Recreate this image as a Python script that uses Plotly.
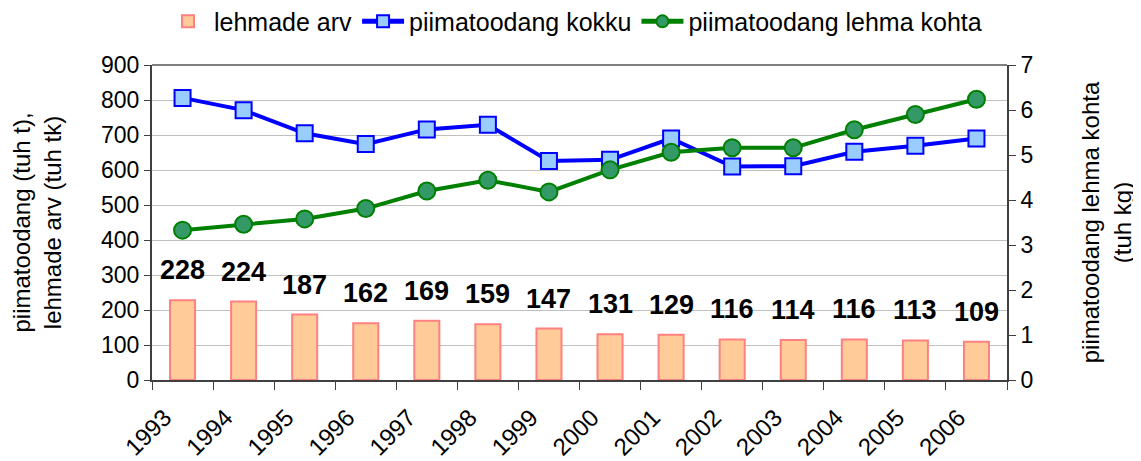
import plotly.graph_objects as go

years = ["1993", "1994", "1995", "1996", "1997", "1998", "1999",
         "2000", "2001", "2002", "2003", "2004", "2005", "2006"]
lehmade_arv = [228, 224, 187, 162, 169, 159, 147, 131, 129, 116, 114, 116, 113, 109]
piim_kokku = [806, 771, 705, 674, 716, 729, 626, 629, 690, 610, 611, 652, 669, 690]
piim_lehma_kohta = [3.33, 3.46, 3.58, 3.81, 4.20, 4.44, 4.18, 4.67, 5.06, 5.16, 5.16,
                    5.56, 5.90, 6.24]

FONT = "Liberation Sans, Arial, sans-serif"

# the page body has an 8px margin, so the figure is made 8px smaller
PAGE_PAD = 8

fig = go.Figure()

# Bars: number of cows
fig.add_trace(go.Bar(
    x=years,
    y=lehmade_arv,
    name="lehmade arv",
    width=0.41,
    marker=dict(color="#FFCC99", line=dict(color="#FF8080", width=2)),
))

# Total milk production (left axis)
fig.add_trace(go.Scatter(
    x=years,
    y=piim_kokku,
    name="piimatoodang kokku",
    mode="lines+markers",
    line=dict(color="#0000FF", width=4),
    marker=dict(symbol="square", size=16, color="#99CCFF",
                line=dict(color="#0000FF", width=2)),
))

# Milk per cow (right axis)
fig.add_trace(go.Scatter(
    x=years,
    y=piim_lehma_kohta,
    name="piimatoodang lehma kohta",
    mode="lines+markers",
    yaxis="y2",
    line=dict(color="#008000", width=4),
    marker=dict(symbol="circle", size=17, color="#339966",
                line=dict(color="#008000", width=2)),
))

# Data labels above the bars (category index as x)
for i, val in enumerate(lehmade_arv):
    fig.add_annotation(
        x=i, y=val, text=f"<b>{val}</b>", showarrow=False,
        yanchor="middle", yshift=30,
        font=dict(size=27, color="black", family=FONT),
    )

# Top border of the plot area
fig.add_shape(type="line", xref="paper", yref="paper",
              x0=0, x1=1, y0=1, y1=1,
              line=dict(color="#808080", width=2))

fig.update_layout(
    width=1141 - PAGE_PAD,
    height=461 - PAGE_PAD,
    margin=dict(l=152 - PAGE_PAD, r=134, t=65 - PAGE_PAD, b=81, autoexpand=False),
    paper_bgcolor="white",
    plot_bgcolor="white",
    font=dict(family=FONT, size=24, color="black"),
    showlegend=True,
    legend=dict(
        orientation="h",
        xref="container", yref="container",
        x=0.5, xanchor="center",
        y=0.97, yanchor="middle",
        font=dict(size=25),
        itemsizing="constant",
        itemwidth=42,
        tracegroupgap=0,
        bgcolor="rgba(0,0,0,0)",
    ),
    xaxis=dict(
        type="category",
        range=[-0.5, 13.5],
        automargin=False,
        showline=True, linecolor="#404040", linewidth=2,
        ticks="outside", tickson="boundaries", ticklen=8,
        tickcolor="#404040",
        tickangle=-45,
        tickfont=dict(size=24),
        ticklabelstandoff=12,
        ticklabelshift=-18,
        showgrid=False,
    ),
    yaxis=dict(
        range=[0, 900],
        dtick=100,
        automargin=False,
        showline=True, linecolor="#404040", linewidth=2,
        ticks="outside", ticklen=6, tickcolor="#404040",
        showgrid=True, gridcolor="#C0C0C0", gridwidth=1,
        zeroline=False,
        tickfont=dict(size=23),
        title=dict(text="piimatoodang (tuh t),<br>lehmade arv (tuh tk)",
                   font=dict(size=24), standoff=50),
    ),
    yaxis2=dict(
        range=[0, 7],
        dtick=1,
        overlaying="y",
        side="right",
        automargin=False,
        showline=True, linecolor="#404040", linewidth=2,
        ticks="outside", ticklen=7, tickcolor="#404040",
        showgrid=False,
        zeroline=False,
        tickfont=dict(size=23),
        title=dict(text="piimatoodang lehma kohta<br>(tuh kg)",
                   font=dict(size=24), standoff=50),
    ),
)

fig.write_html("out.html")
